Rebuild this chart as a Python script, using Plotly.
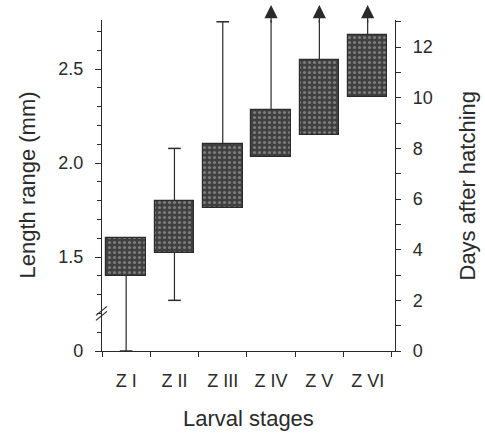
import plotly.graph_objects as go

stages = ['Z I', 'Z II', 'Z III', 'Z IV', 'Z V', 'Z VI']
length_low = [1.40, 1.52, 1.76, 2.03, 2.15, 2.35]
length_high = [1.60, 1.80, 2.10, 2.28, 2.55, 2.68]
days_low = [0, 2, 6, 9.5, 11.5, 12.5]
days_high = [4, 8, 13, None, None, None]  # None = still going (arrow)

FONT = 'Liberation Sans, Arial, sans-serif'
INK = '#2a2a2a'


def visualize():
    fig = go.Figure()

    # whiskers (days after hatching), drawn first so the boxes sit on top
    wx, wy, cx, cy = [], [], [], []
    for s, lo, hi in zip(stages, days_low, days_high):
        top = hi if hi is not None else 14
        wx += [s, s, None]
        wy += [lo, top, None]
        if hi is not None:
            cx += [s, s]
            cy += [lo, hi]
    fig.add_trace(go.Scatter(x=wx, y=wy, mode='lines', line={'color': INK, 'width': 1.2},
                             yaxis='y', showlegend=False, hoverinfo='skip'))
    fig.add_trace(go.Scatter(x=cx, y=cy, mode='markers', yaxis='y', showlegend=False, hoverinfo='skip',
                             marker={'symbol': 'line-ew', 'size': 9, 'line': {'color': INK, 'width': 1.5}}))

    # boxes (length range)
    fig.add_trace(go.Bar(x=stages, y=[h - l for l, h in zip(length_low, length_high)], base=length_low,
                         width=0.82, yaxis='y2', showlegend=False,
                         marker={'color': '#474747', 'line': {'color': '#2c2c2c', 'width': 1.2},
                                 'pattern': {'shape': '.', 'fgcolor': '#b8b8b8', 'bgcolor': '#404040',
                                             'size': 5, 'solidity': 0.3}}))

    # arrow heads for the open-ended stages
    for s, hi in zip(stages, days_high):
        if hi is None:
            fig.add_annotation(x=s, y=13.66, ax=s, ay=12.9, xref='x', yref='y', axref='x', ayref='y',
                               text='', showarrow=True, arrowhead=2, arrowsize=2.2, arrowwidth=1.2,
                               arrowcolor=INK, standoff=0)

    # axis break on the length axis
    for dy in (0, 5):
        fig.add_shape(type='line', xref='paper', yref='y2', xsizemode='pixel', ysizemode='pixel',
                      xanchor=0, yanchor=1.2, x0=-6, x1=5, y0=-7 + dy, y1=2 + dy,
                      line={'color': INK, 'width': 1.2})

    # axis titles placed by hand so the margins stay fixed
    title_font = {'family': FONT, 'size': 22, 'color': INK}
    fig.add_annotation(text='Length range (mm)', xref='paper', yref='paper', x=0, y=0.5, xshift=-75,
                       xanchor='center', yanchor='middle', textangle=-90, showarrow=False, font=title_font)
    fig.add_annotation(text='Days after hatching', xref='paper', yref='paper', x=1, y=0.5, xshift=72,
                       xanchor='center', yanchor='middle', textangle=-90, showarrow=False, font=title_font)
    fig.add_annotation(text='Larval stages', xref='paper', yref='paper', x=0.5, y=0, yshift=-67,
                       xanchor='center', yanchor='middle', showarrow=False, font=title_font)

    axis_style = dict(showline=True, linecolor=INK, linewidth=1.3, showgrid=False, zeroline=False,
                      automargin=False, ticks='outside', tickcolor=INK, tickwidth=1.2,
                      tickfont={'family': FONT, 'size': 18, 'color': INK})

    fig.update_layout(
        width=485, height=434, margin={'l': 102, 'r': 90, 't': 20, 'b': 83},
        paper_bgcolor='white', plot_bgcolor='white', bargap=0,
        xaxis=dict(axis_style, type='category', range=[-0.5, 5.566], tickson='boundaries', ticklen=5,
                   ticklabelstandoff=13),
        yaxis=dict(axis_style, side='right', range=[0, 13.07], tickvals=list(range(0, 13, 2)), ticklen=5,
                   minor={'dtick': 1, 'tick0': 0, 'ticks': 'outside', 'ticklen': 5, 'tickcolor': INK},
                   ticklabelstandoff=8),
        yaxis2=dict(axis_style, side='left', overlaying='y', range=[1.0, 2.761],
                    tickvals=[1.0, 1.5, 2.0, 2.5], ticktext=['0', '1.5', '2.0', '2.5'], ticklen=6,
                    minor={'dtick': 0.1, 'tick0': 1.0, 'ticks': 'outside', 'ticklen': 4, 'tickcolor': INK},
                    ticklabelstandoff=8),
    )
    # drop the page's default body margin so the figure sits at the window corner
    fig.write_html('out.html', config={'displayModeBar': False},
                   post_script="document.body.style.margin = '0';")


if __name__ == '__main__':
    visualize()
